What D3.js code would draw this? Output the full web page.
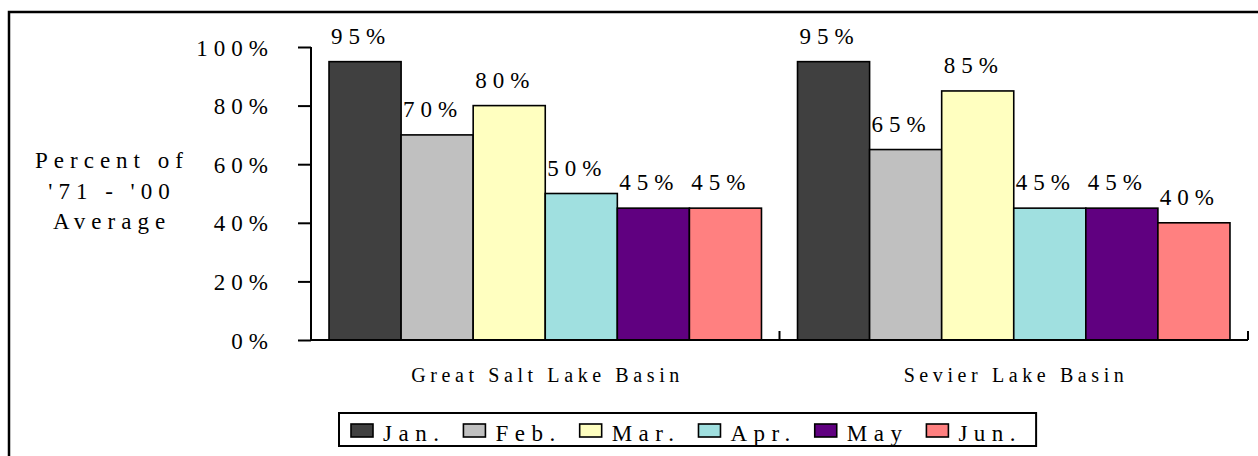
<!DOCTYPE html>
<html lang="en">
  <head>
    <meta charset="UTF-8">
    <script src="https://d3js.org/d3.v7.min.js"></script>
    <style>
      body { margin: 0; background: #fff; }
      svg text {
        font-family: "Liberation Serif", "Times New Roman", serif;
        fill: #000;
      }
      .lbl { font-size: 23px; letter-spacing: 6px; }
      .leg { font-size: 23px; letter-spacing: 6.5px; }
      .cat { font-size: 20px; letter-spacing: 4.6px; }
    </style>
    <title>Percent of '71 - '00 Average</title>
  </head>
  <body>
  <script>
      // chart data
      const basins = ["Great Salt Lake Basin", "Sevier Lake Basin"];
      const months = ["Jan.", "Feb.", "Mar.", "Apr.", "May", "Jun."];
      const greatSaltLake = [95, 70, 80, 50, 45, 45];
      const sevierLake = [95, 65, 85, 45, 45, 40];
      const yTicks = [0, 20, 40, 60, 80, 100];
      const colours = ["#404040", "#c0c0c0", "#ffffc0", "#a0e0e0", "#600080", "#ff8080"];
      const titleLines = ["Percent of", "'71 - '00", "Average"];

      const series = [greatSaltLake, sevierLake];
      const rows = basins.map((b, i) => ({
          basin: b,
          values: months.map((m, j) => ({ month: m, value: series[i][j] }))
      }));

      const W = 1258, H = 456;
      const margin = {left: 311, right: 10, top: 47, bottom: 116};

      const svg = d3.select('body').append('svg')
          .attr('width', W)
          .attr('height', H);

      // outer frame (runs off right and bottom like the original)
      svg.append('rect')
          .attr('x', 9).attr('y', 12)
          .attr('width', W + 20).attr('height', H + 20)
          .attr('fill', 'none')
          .attr('stroke', '#000')
          .attr('stroke-width', 2.5);

      const y = d3.scaleLinear()
          .domain([0, 100])
          .range([H - margin.bottom, margin.top]);

      const x0 = d3.scaleBand()
          .domain(basins)
          .range([margin.left, W - margin.right]);

      const x1 = d3.scaleBand()
          .domain(months)
          .range([0, x0.bandwidth()])
          .paddingOuter(0.25);

      const colour = d3.scaleOrdinal().domain(months).range(colours);

      // bars
      const group = svg.selectAll('g.basin')
          .data(rows)
          .join('g')
          .attr('class', 'basin')
          .attr('transform', d => `translate(${x0(d.basin)},0)`);

      group.selectAll('rect')
          .data(d => d.values)
          .join('rect')
          .attr('x', d => x1(d.month))
          .attr('y', d => y(d.value))
          .attr('width', x1.bandwidth())
          .attr('height', d => y(0) - y(d.value))
          .attr('fill', d => colour(d.month))
          .attr('stroke', '#000')
          .attr('stroke-width', 1.6);

      // value labels, sitting a little left of the bar centre like the original
      group.selectAll('text.val')
          .data(d => d.values)
          .join('text')
          .attr('class', 'lbl val')
          .attr('x', d => x1(d.month) + x1.bandwidth() / 2 - 4)
          .attr('y', d => y(d.value) - 18)
          .attr('text-anchor', 'middle')
          .text(d => d.value + '%');

      // y axis
      const yAxis = svg.append('g')
          .attr('transform', `translate(${margin.left},0)`)
          .call(d3.axisLeft(y).tickValues(yTicks).tickSize(13).tickPadding(24)
              .tickFormat(d => d + '%'));
      yAxis.attr('font-family', null).attr('font-size', null);
      yAxis.select('.domain').attr('stroke', '#000').attr('stroke-width', 2)
          .attr('d', `M0,${y(0)}V${y(100)}`);
      yAxis.selectAll('.tick line').attr('stroke', '#000').attr('stroke-width', 2);
      yAxis.selectAll('.tick text')
          .attr('class', 'lbl')
          .attr('dy', '0.35em')
          .attr('fill', '#000');

      // x axis with group separators
      const xAxis = svg.append('g')
          .attr('transform', `translate(0,${y(0)})`)
          .call(d3.axisBottom(x0).tickSize(0).tickPadding(0));
      xAxis.attr('font-family', null).attr('font-size', null);
      xAxis.select('.domain').attr('stroke', '#000').attr('stroke-width', 2)
          .attr('d', `M${margin.left},0H${W - margin.right}`);
      xAxis.selectAll('.tick text')
          .attr('class', 'cat')
          .attr('y', 42).attr('dy', 0).attr('dx', 2.3);
      const seps = basins.map(b => x0(b)).concat([x0.range()[1]]).slice(1);
      xAxis.selectAll('line.sep')
          .data(seps)
          .join('line')
          .attr('class', 'sep')
          .attr('x1', d => d).attr('x2', d => d)
          .attr('y1', 0).attr('y2', -9)
          .attr('stroke', '#000').attr('stroke-width', 2);

      // y title
      svg.append('text')
          .attr('class', 'lbl')
          .attr('text-anchor', 'middle')
          .selectAll('tspan')
          .data(titleLines)
          .join('tspan')
          .attr('x', 112)
          .attr('y', (d, i) => 168 + i * 30.5)
          .text(d => d);

      // legend
      const legend = svg.append('g');
      const box = legend.append('rect')
          .attr('fill', '#fff').attr('stroke', '#000').attr('stroke-width', 2);
      let lx = 351;
      const ly = 430.5;
      months.forEach(m => {
          legend.append('rect')
              .attr('x', lx).attr('y', ly - 6.5)
              .attr('width', 22).attr('height', 13)
              .attr('fill', colour(m))
              .attr('stroke', '#000').attr('stroke-width', 1.6);
          const t = legend.append('text')
              .attr('class', 'leg')
              .attr('x', lx + 32)
              .attr('y', ly + 10.5)
              .text(m);
          lx += 32 + t.node().getComputedTextLength() + 18;
      });
      box.attr('x', 339).attr('y', 413).attr('width', lx - 339 - 4).attr('height', 33);
  </script>
  </body>
</html>
